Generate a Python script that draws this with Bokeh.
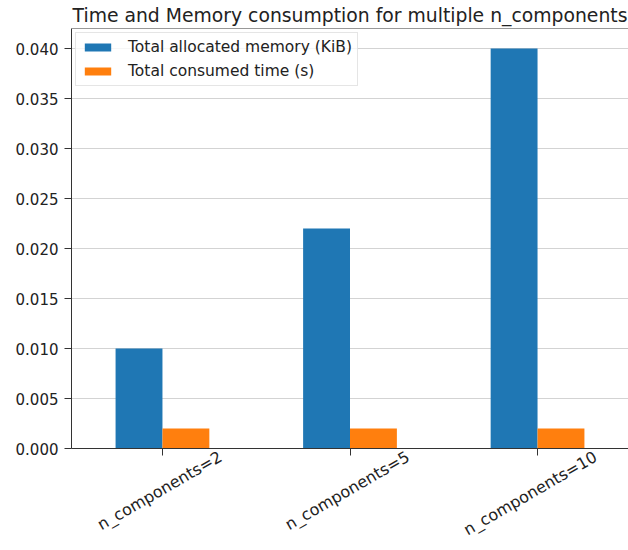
import math
from bokeh.plotting import figure
from bokeh.models import (ColumnDataSource, NumeralTickFormatter, FixedTicker,
                          Legend, LegendItem, Span, Range1d, LinearAxis)
from bokeh.transform import dodge
from bokeh.embed import file_html
from bokeh.resources import INLINE

categories = ["n_components=2", "n_components=5", "n_components=10"]
memory_kib = [0.010, 0.022, 0.040]
time_s = [0.002, 0.002, 0.002]
y_ticks = [0.0, 0.005, 0.010, 0.015, 0.020, 0.025, 0.030, 0.035, 0.040]
series_names = ["Total allocated memory (KiB)", "Total consumed time (s)"]
title_text = "Time and Memory consumption for multiple n_components"

FONT = "DejaVu Sans"
BLUE = "#1f77b4"
ORANGE = "#ff7f0e"
PAD = -0.015          # range padding beyond the half-slot at each end
LABEL_SHIFT = 0.31    # shift of rotated labels so they are centred on their ticks

n = len(categories)
idx = list(range(n))
source = ColumnDataSource(data=dict(idx=idx, cat=categories, mem=memory_kib, tim=time_s))

p = figure(width=628, height=550, output_backend="svg", toolbar_location=None,
           x_range=Range1d(-0.5 - PAD, n - 0.5 + PAD), y_range=(0, 0.042),
           min_border_left=71, min_border_right=0, min_border_top=0, min_border_bottom=101)

p.title.text = title_text
p.title.align = "center"
p.title.text_font = FONT
p.title.text_font_size = "18.8px"
p.title.text_font_style = "normal"
p.title.text_color = "#222222"
p.title.standoff = 5
p.title.offset = 0

r1 = p.vbar(x=dodge("idx", -0.125), top="mem", width=0.25, source=source,
            fill_color=BLUE, line_color=None)
r2 = p.vbar(x=dodge("idx", 0.125), top="tim", width=0.25, source=source,
            fill_color=ORANGE, line_color=None)

p.outline_line_color = None
p.add_layout(Span(location=0.042, dimension="width", line_color="#333333", line_width=1))

# axes
for ax in (p.xaxis[0], p.yaxis[0]):
    ax.axis_line_color = "#333333"
    ax.axis_line_width = 1
    ax.major_tick_line_color = "#333333"
    ax.major_tick_out = 7
    ax.major_tick_in = 0
    ax.minor_tick_line_color = None
    ax.major_label_text_font = FONT
    ax.major_label_text_font_size = "15px"
    ax.major_label_text_color = "#222222"

p.yaxis[0].ticker = FixedTicker(ticks=y_ticks)
p.yaxis[0].formatter = NumeralTickFormatter(format="0.000")
p.yaxis[0].major_label_standoff = 6
p.xaxis[0].ticker = FixedTicker(ticks=idx)
p.xaxis[0].major_label_overrides = {i: "" for i in idx}
p.xaxis[0].major_label_text_font_size = "0px"
p.xaxis[0].major_label_standoff = 0

# rotated category labels, centred on the ticks (matplotlib style)
p.extra_x_ranges = {"lab": Range1d(start=-0.5 - PAD - LABEL_SHIFT,
                                   end=n - 0.5 + PAD - LABEL_SHIFT)}
lab_axis = LinearAxis(x_range_name="lab", ticker=FixedTicker(ticks=idx),
                      major_label_overrides={i: c for i, c in zip(idx, categories)})
lab_axis.axis_line_color = None
lab_axis.major_tick_line_color = None
lab_axis.minor_tick_line_color = None
lab_axis.major_tick_out = 0
lab_axis.major_tick_in = 0
lab_axis.major_label_standoff = 0
lab_axis.major_label_orientation = math.pi / 6
lab_axis.major_label_text_font = FONT
lab_axis.major_label_text_font_size = "16px"
lab_axis.major_label_text_color = "#222222"
p.add_layout(lab_axis, "below")

p.xgrid.grid_line_color = None
p.ygrid.grid_line_color = "#d3d3d3"
p.ygrid.grid_line_width = 1
p.ygrid.ticker = FixedTicker(ticks=y_ticks)

legend = Legend(items=[LegendItem(label=series_names[0], renderers=[r1]),
                       LegendItem(label=series_names[1], renderers=[r2])],
                location="top_left")
legend.label_text_font = FONT
legend.label_text_font_size = "15.5px"
legend.label_text_color = "#222222"
legend.glyph_width = 33
legend.glyph_height = 10
legend.label_standoff = 14
legend.label_height = 18
legend.spacing = 6
legend.padding = 5
legend.margin = 4
legend.border_line_color = "#cccccc"
legend.background_fill_alpha = 0.8
p.add_layout(legend)

open("out.html", "w").write(file_html(p, INLINE))
